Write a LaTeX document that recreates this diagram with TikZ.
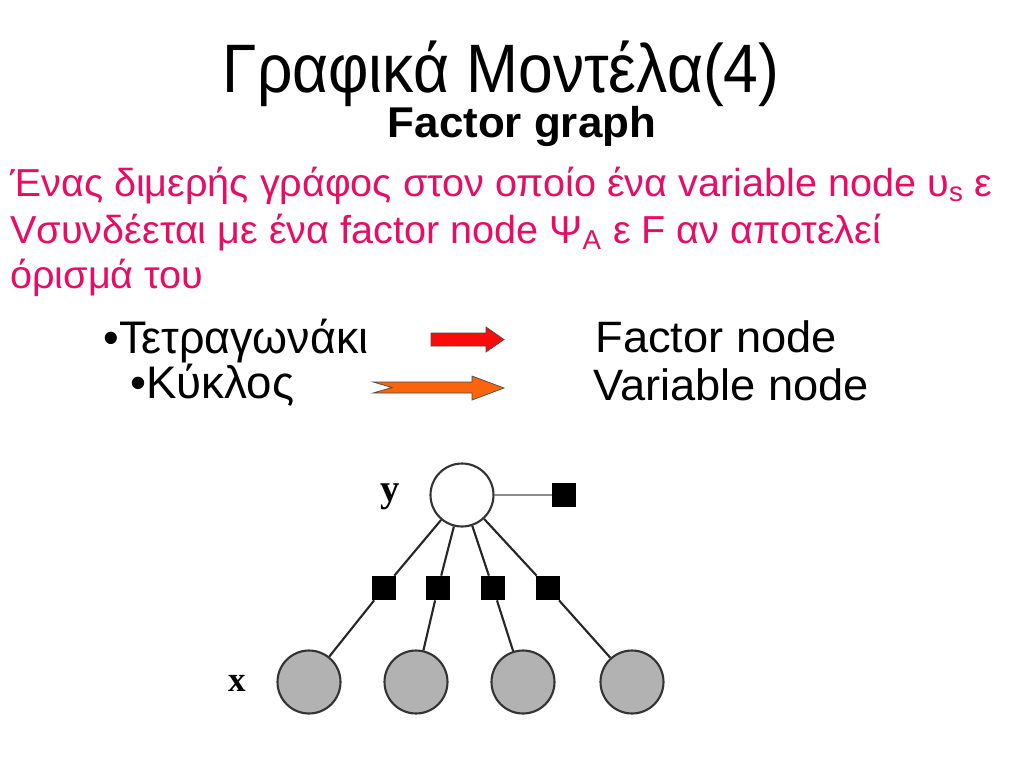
\documentclass[tikz,border=0pt]{standalone}
\usepackage{fontspec}
\setmainfont{Liberation Sans}
\newfontfamily\labfont{Liberation Serif}
\usetikzlibrary{positioning}
\definecolor{pinktext}{RGB}{232,12,100}
\definecolor{arrred}{RGB}{250,10,10}
\definecolor{arrorange}{RGB}{250,100,10}

\begin{document}
\begin{tikzpicture}[x=0.02cm,y=-0.02cm,
  txt/.style={inner sep=0pt},
  varnode/.style={circle,draw=black!80,line width=1.2pt,minimum size=1.26cm,inner sep=0pt},
  facnode/.style={rectangle,fill=black,minimum size=0.48cm,inner sep=0pt},
  link/.style={line width=1.2pt,black!85}]
\fill[white] (0,0) rectangle (1024,768);

\node[txt,anchor=base,xscale=0.91,font=\fontsize{39}{44}\selectfont] (title) at (501,92) {Γραφικά Μοντέλα(4)};
\node[txt,anchor=base,xscale=1.02,font=\fontsize{24.5}{28}\selectfont\bfseries] (subtitle) at (522,137) {Factor graph};

\node[txt,anchor=base west,xscale=1.015,pinktext,font=\fontsize{22.2}{26}\selectfont] (line1) at (10,196) {Ένας διμερής γράφος στον οποίο ένα variable node υ\textsubscript{s} ε};
\node[txt,anchor=base west,xscale=1.015,pinktext,font=\fontsize{22.2}{26}\selectfont] (line2) at (10,243) {Vσυνδέεται με ένα factor node Ψ\textsubscript{A} ε F αν αποτελεί};
\node[txt,anchor=base west,xscale=1.015,pinktext,font=\fontsize{22.2}{26}\selectfont] (line3) at (10,288) {όρισμά του};

\node[txt,anchor=base west,xscale=0.98,font=\fontsize{26}{30}\selectfont] (sq) at (103,353) {•Τετραγωνάκι};
\node[txt,anchor=base west,font=\fontsize{26}{30}\selectfont] (ci) at (130,398) {•Κύκλος};
\node[txt,anchor=base west,xscale=1.03,font=\fontsize{25}{28}\selectfont] (fn) at (595,352) {Factor node};
\node[txt,anchor=base west,xscale=1.03,font=\fontsize{25}{28}\selectfont] (vn) at (593,400) {Variable node};

% arrows
\draw[fill=arrred,draw=black!70,line width=0.4pt] (431,333) -- (486,333) -- (486,327) -- (504,339.5) -- (486,352) -- (486,346) -- (431,346) -- cycle;
\draw[fill=arrorange,draw=black!70,line width=0.4pt] (373,382) -- (472,382) -- (472,376) -- (504,388) -- (472,400) -- (472,393) -- (373,393) -- (392,387.5) -- cycle;

\node[varnode,fill=white] (y) at (462,495) {};
\node[facnode] (fy) at (564,495) {};
\node[facnode] (f1) at (384,588) {};
\node[facnode] (f2) at (438,588) {};
\node[facnode] (f3) at (493,588) {};
\node[facnode] (f4) at (548,588) {};
\node[varnode,fill=black!30] (x1) at (309,682) {};
\node[varnode,fill=black!30] (x2) at (416,682) {};
\node[varnode,fill=black!30] (x3) at (523,682) {};
\node[varnode,fill=black!30] (x4) at (632,682) {};

\node[font=\fontsize{22}{24}\labfont\bfseries] (ylab) at (390,497) {y};
\node[font=\fontsize{20}{22}\labfont\bfseries] (xlab) at (237,683) {x};

\draw[link,line width=1.6pt,black!45] (y) -- (fy);
\draw[link] (y) -- (f1);
\draw[link] (y) -- (f2);
\draw[link] (y) -- (f3);
\draw[link] (y) -- (f4);
\draw[link] (f1) -- (x1);
\draw[link] (f2) -- (x2);
\draw[link] (f3) -- (x3);
\draw[link] (f4) -- (x4);
\end{tikzpicture}
\end{document}
